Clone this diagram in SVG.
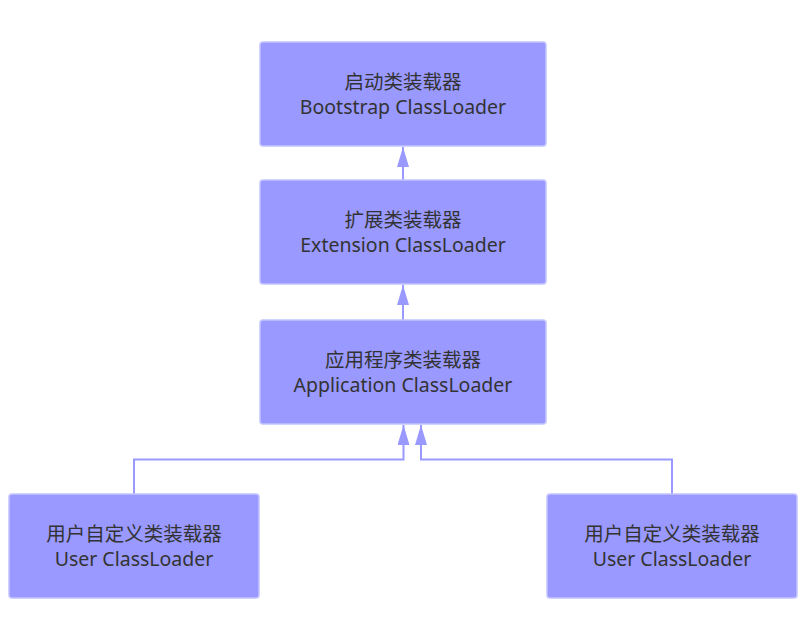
<svg xmlns="http://www.w3.org/2000/svg" width="803" height="620" viewBox="0 0 803 620">
<style>
.box{fill:#9999ff;stroke:#c4c4ff;stroke-width:1.5}
.t{font-family:"Noto Sans","Noto Sans CJK SC",sans-serif;font-size:19.5px;fill:#333333;text-anchor:middle}
.c{fill:none;stroke:#9999ff;stroke-width:2}
</style>
<defs>
<marker id="ah" viewBox="0 0 20 12" refX="20" refY="6" markerWidth="20" markerHeight="12" markerUnits="userSpaceOnUse" orient="auto">
<path d="M0,0 L20,6 L0,12 Z" fill="#9999ff"/>
</marker>
</defs>
<rect width="803" height="620" fill="#ffffff"/>
<g id="connectors">
<path class="c" d="M403,180 V147" marker-end="url(#ah)"/>
<path class="c" d="M403,320 V285" marker-end="url(#ah)"/>
<path class="c" d="M134,494 V459.5 H403.5 V425" marker-end="url(#ah)"/>
<path class="c" d="M672,494 V459.5 H421 V425" marker-end="url(#ah)"/>
</g>
<g id="bootstrap">
<rect class="box" x="260" y="42" width="286" height="104" rx="3"/>
<text class="t" x="403" y="89">启动类装载器</text>
<text class="t" x="403" y="114">Bootstrap ClassLoader</text>
</g>
<g id="extension">
<rect class="box" x="260" y="180" width="286" height="104" rx="3"/>
<text class="t" x="403" y="227">扩展类装载器</text>
<text class="t" x="403" y="252">Extension ClassLoader</text>
</g>
<g id="application">
<rect class="box" x="260" y="320" width="286" height="104" rx="3"/>
<text class="t" x="403" y="367">应用程序类装载器</text>
<text class="t" x="403" y="392">Application ClassLoader</text>
</g>
<g id="user1">
<rect class="box" x="9" y="494" width="250" height="104" rx="3"/>
<text class="t" x="134" y="541">用户自定义类装载器</text>
<text class="t" x="134" y="566">User ClassLoader</text>
</g>
<g id="user2">
<rect class="box" x="547" y="494" width="250" height="104" rx="3"/>
<text class="t" x="672" y="541">用户自定义类装载器</text>
<text class="t" x="672" y="566">User ClassLoader</text>
</g>
</svg>
